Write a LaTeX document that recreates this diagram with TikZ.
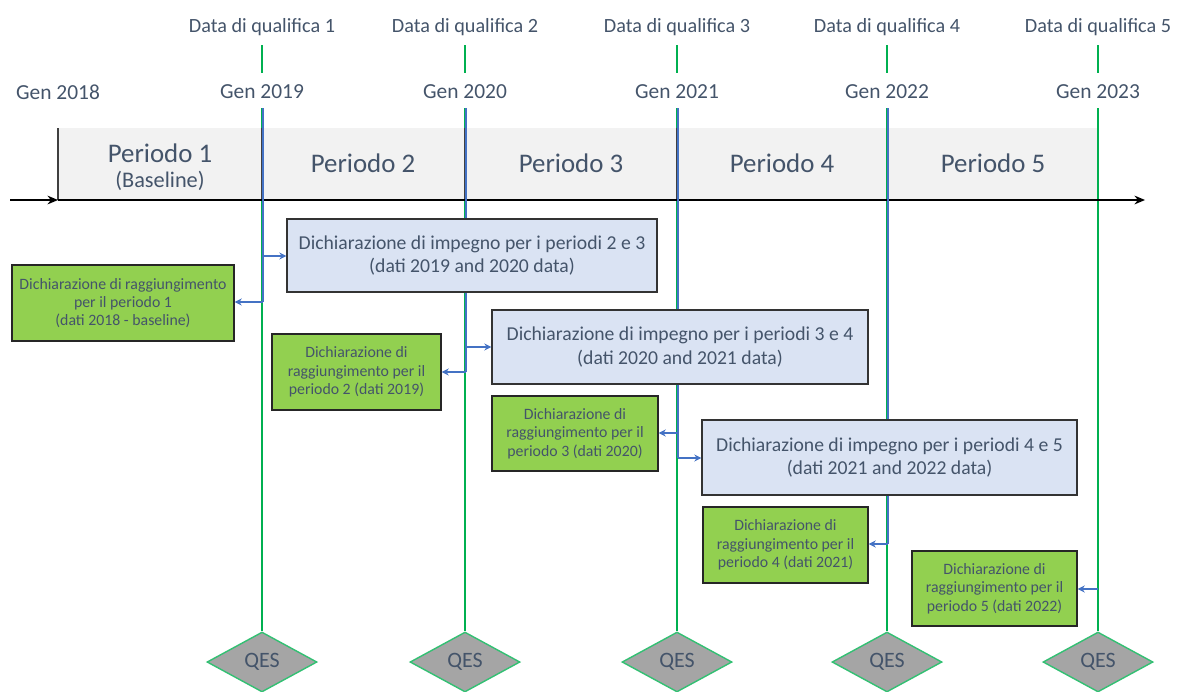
\documentclass[tikz,border=0pt]{standalone}
\usepackage{fontspec}
\setmainfont{Carlito}
\usetikzlibrary{shapes.geometric,arrows.meta,positioning}
\definecolor{txt}{HTML}{44546A}
\definecolor{qgreen}{HTML}{00B050}
\definecolor{impblue}{HTML}{DAE3F3}
\definecolor{raggreen}{HTML}{92D050}
\definecolor{conn}{HTML}{4472C4}
\definecolor{band}{HTML}{F2F2F2}
\definecolor{qesgray}{HTML}{A5A5A5}
\begin{document}
\begin{tikzpicture}[x=0.02cm,y=-0.02cm,>=Stealth,
  impegno/.style={draw=black!80,fill=impblue,thick,text=txt,align=center,inner sep=0pt,
    font=\fontsize{11.2}{13.6}\selectfont},
  ragg/.style={draw=black!85,fill=raggreen,thick,text=txt,align=center,inner sep=0pt,
    font=\fontsize{9}{10.4}\selectfont},
  qes/.style={diamond,draw=qgreen!80,fill=qesgray,thick,text=txt,inner sep=0pt,
    minimum width=2.2cm,minimum height=1.2cm,font=\fontsize{12.5}{14}\selectfont},
  lab/.style={text=txt,font=\fontsize{11.5}{13}\selectfont},
  genlab/.style={text=txt,font=\fontsize{12.2}{14}\selectfont},
  per/.style={text=txt,font=\fontsize{15.3}{17}\selectfont},
  link/.style={conn,line width=0.8pt,-{Stealth[length=4pt,width=4pt]}}]
  \useasboundingbox (0,0) rectangle (1179,691);
  % fascia dei periodi
  \fill[band] (58,128) rectangle (1098,200);
  % date di qualifica, linee verdi e QES
  \foreach \x/\n/\yr in {262/1/2019,465/2/2020,677/3/2021,887/4/2022,1098/5/2023}{
    \node[lab] (dq\n) at (\x,27) {Data di qualifica \n};
    \node[genlab] (gen\n) at (\x,92) {Gen \yr};
    \node[qes] (qes\n) at (\x,662) {QES};
    \draw[qgreen,line width=1.6pt] (\x,45) -- (\x,73);
    \draw[qgreen,line width=1.6pt] (\x,108) -- (qes\n.north);
  }
  \node[genlab] (gen0) at (58,92) {Gen 2018};
  % separatori
  \foreach \x in {58,262,465,677}
    \draw[black!75,thick] (\x,128) -- (\x,200);
  % asse del tempo
  \draw[black,thick,-{Stealth[length=6pt,width=5pt]}] (10,200) -- (58,200);
  \draw[black,thick,-{Stealth[length=6pt,width=5pt]}] (58,200) -- (1145,200);
  \node[per] (p1) at (160,153) {Periodo 1};
  \node[text=txt,font=\fontsize{12.7}{14}\selectfont] (base) at (160,181) {(Baseline)};
  \node[per] (p2) at (363,163) {Periodo 2};
  \node[per] (p3) at (571,163) {Periodo 3};
  \node[per] (p4) at (782,163) {Periodo 4};
  \node[per] (p5) at (993,163) {Periodo 5};
  % collegamenti blu lungo le linee
  \coordinate (t1) at (263,108); \coordinate (a1) at (263,256); \coordinate (b1) at (263,302);
  \coordinate (t2) at (466,108); \coordinate (a2) at (466,347); \coordinate (b2) at (466,372);
  \coordinate (t3) at (678,108); \coordinate (b3) at (678,433); \coordinate (a3) at (678,458);
  \coordinate (t4) at (888,108); \coordinate (b4) at (888,544);
  \coordinate (b5) at (1098,589);
  \draw[conn,line width=0.6pt] (t1) -- (b1);
  \draw[conn,line width=0.6pt] (t2) -- (b2);
  \draw[conn,line width=0.6pt] (t3) -- (a3);
  \draw[conn,line width=0.6pt] (t4) -- (b4);
  % dichiarazioni di impegno
  \node[impegno,minimum width=7.4cm,minimum height=1.46cm] (imp1) at (472,255.5)
    {Dichiarazione di impegno per i periodi 2 e 3\\(dati 2019 and 2020 data)};
  \node[impegno,minimum width=7.52cm,minimum height=1.48cm] (imp2) at (680,347)
    {Dichiarazione di impegno per i periodi 3 e 4\\(dati 2020 and 2021 data)};
  \node[impegno,minimum width=7.5cm,minimum height=1.5cm] (imp3) at (889.5,457.5)
    {Dichiarazione di impegno per i periodi 4 e 5\\(dati 2021 and 2022 data)};
  % dichiarazioni di raggiungimento
  \node[ragg,minimum width=4.44cm,minimum height=1.52cm] (rag1) at (123,303)
    {Dichiarazione di raggiungimento\\per il periodo 1\\(dati 2018 - baseline)};
  \node[ragg,minimum width=3.38cm,minimum height=1.52cm] (rag2) at (356.5,372)
    {Dichiarazione di\\raggiungimento per il\\periodo 2 (dati 2019)};
  \node[ragg,minimum width=3.32cm,minimum height=1.5cm] (rag3) at (575,433.5)
    {Dichiarazione di\\raggiungimento per il\\periodo 3 (dati 2020)};
  \node[ragg,minimum width=3.3cm,minimum height=1.52cm] (rag4) at (785.5,545)
    {Dichiarazione di\\raggiungimento per il\\periodo 4 (dati 2021)};
  \node[ragg,minimum width=3.3cm,minimum height=1.5cm] (rag5) at (994.5,588.5)
    {Dichiarazione di\\raggiungimento per il\\periodo 5 (dati 2022)};
  % frecce
  \draw[link] (a1) -- (a1 -| imp1.west);
  \draw[link] (b1) -- (b1 -| rag1.east);
  \draw[link] (a2) -- (a2 -| imp2.west);
  \draw[link] (b2) -- (b2 -| rag2.east);
  \draw[link] (b3) -- (b3 -| rag3.east);
  \draw[link] (a3) -- (a3 -| imp3.west);
  \draw[link] (b4) -- (b4 -| rag4.east);
  \draw[link] (b5) -- (b5 -| rag5.east);
\end{tikzpicture}
\end{document}
